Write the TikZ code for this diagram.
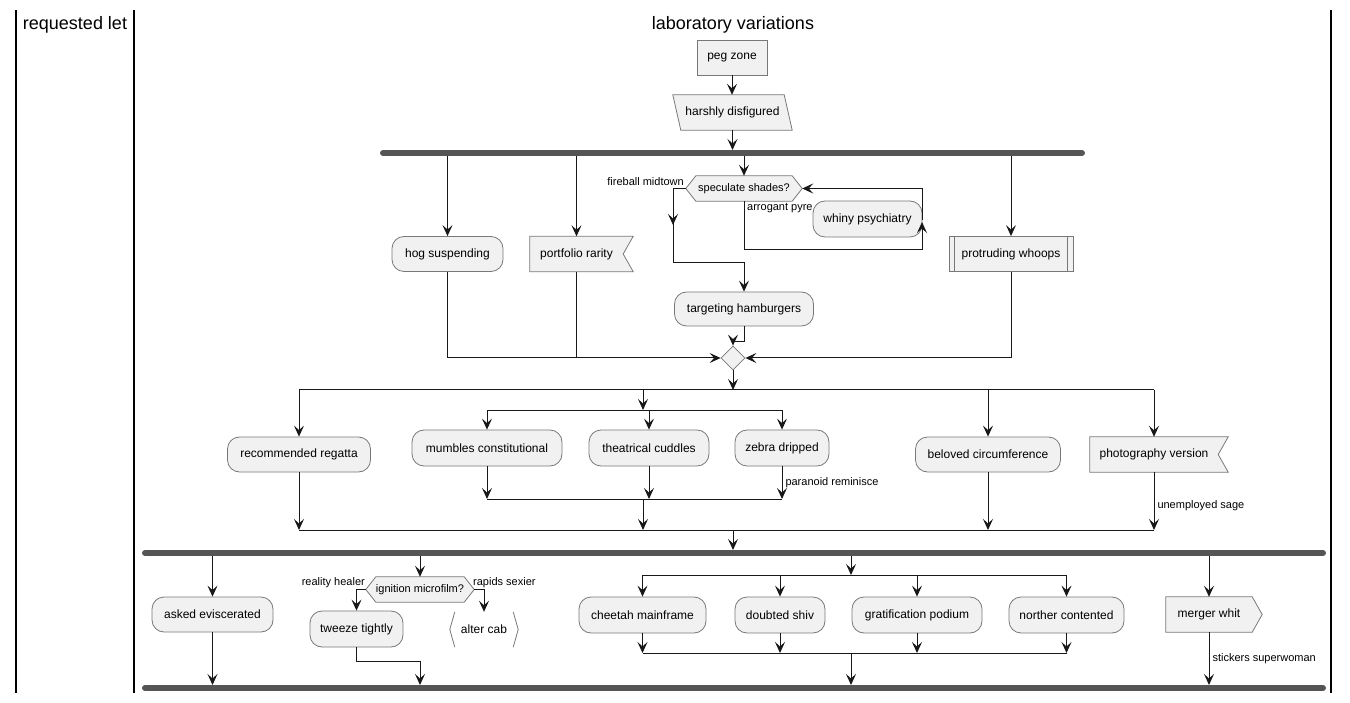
\documentclass[tikz,border=0pt]{standalone}
\usepackage{fontspec}
\setmainfont{Liberation Sans}
\usepackage{tikz}
\usetikzlibrary{arrows.meta,calc,shapes.geometric,backgrounds}
\definecolor{box fill}{rgb}{0.9451, 0.9451, 0.9451}
\definecolor{box line}{rgb}{0.4706, 0.4706, 0.4706}
\definecolor{bar gray}{rgb}{0.3333, 0.3333, 0.3333}
\definecolor{flow black}{rgb}{0.0941, 0.0941, 0.0941}

\begin{document}
\begin{tikzpicture}[x=1pt, y=-1pt,
		every node/.style={font=\fontsize{12}{14}\selectfont, text=black, inner sep=0pt},
		act/.style={draw=box line, fill=box fill, line width=0.8pt, rounded corners=12pt, minimum height=35pt},
		shapebox/.style={minimum height=35pt},
		hexa/.style={minimum height=25pt, font=\fontsize{11}{13}\selectfont},
		lbl/.style={font=\fontsize{11}{13}\selectfont},
		shape line/.style={draw=box line, fill=box fill, line width=0.8pt},
		flow/.style={draw=flow black, line width=1pt, -{Stealth[length=11pt, width=10pt, inset=4.5pt]}},
		wire/.style={draw=flow black, line width=1pt},
		bar/.style={draw=bar gray, line width=6pt, line cap=round},
		lane/.style={draw=black, line width=1.4pt}]
			\useasboundingbox (0,0) rectangle (1350,703);
			% Part for the lanes
			\draw[lane] (16,10) -- (16,693) (134,10) -- (134,693) (1331,10) -- (1331,693);
			\node[font=\fontsize{18}{21}\selectfont] (laneA) at (75,25) {requested let};
			\node[font=\fontsize{18}{21}\selectfont] (laneB) at (733,25) {laboratory variations};
			% Part for the start
			\node[draw=box line, fill=box fill, line width=0.8pt, minimum width=70pt, minimum height=35pt] (peg) at (732,57.5) {peg zone};
			\node[shapebox, minimum width=111pt] (hd) at (732.5,112.5) {harshly disfigured};
			\draw[flow] (peg.south) -- (peg.south |- hd.north);
			% Part for the first fork
			\coordinate (f1t) at (0,150);
			\coordinate (f1b) at (0,156);
			\draw[bar] (383,153) -- (1082,153);
			\draw[flow] (hd.south) -- (hd.south |- f1t);
			\node[act, minimum width=111pt] (hog) at (447.5,254) {hog suspending};
			\node[shapebox, minimum width=93pt] (pr) at (576.5,254) {portfolio rarity};
			\node[hexa, minimum width=96pt] (ss) at (744,188.5) {speculate shades?};
			\node[act, minimum width=109pt, minimum height=36pt] (wp) at (867.5,219) {whiny psychiatry};
			\node[act, minimum width=139pt, minimum height=34pt] (th) at (744,309) {targeting hamburgers};
			\node[draw=box line, fill=box fill, line width=0.8pt, minimum width=124pt, minimum height=35pt] (pw) at (1011,254) {protruding whoops};
			\draw[box line, line width=0.8pt] ($(pw.north west)+(6,0)$) -- ($(pw.south west)+(6,0)$)
				($(pw.north east)+(-6,0)$) -- ($(pw.south east)+(-6,0)$);
			\node[draw=box line, fill=box fill, line width=0.8pt, diamond, aspect=1, minimum width=24pt, minimum height=24pt] (m1) at (733,358) {};
			\draw[flow] (hog.north |- f1b) -- (hog.north);
			\draw[flow] (pr.north |- f1b) -- (pr.north);
			\draw[flow] (ss.north |- f1b) -- (ss.north);
			\draw[flow] (pw.north |- f1b) -- (pw.north);
			% decision and loop
			\coordinate (ssL) at ($(ss.west)+(-10,0)$);
			\coordinate (ssR) at ($(ss.east)+(10,0)$);
			\coordinate (ssK) at (673,263);
			\coordinate (lpC) at (922,250);
			\node[lbl, anchor=east] (fm) at (684,182) {fireball midtown};
			\node[lbl, anchor=west] (ap) at (747,208) {arrogant pyre};
			\draw[flow] (ssL) -| ($(ssK)+(0,-38)$);
			\draw[flow] ($(ssK)+(0,-40)$) -- (ssK) -| (th.north);
			\draw[flow] (ss.south) |- (lpC) -- ($(lpC)+(0,-28)$);
			\draw[flow] ($(lpC)+(0,-30)$) |- (ssR);
			% merge
			\draw[flow] (th.south) |- ($(m1.north)+(0,-4)$) -- (m1.north);
			\draw[flow] (hog.south) |- (m1.west);
			\draw[wire] (pr.south) -- (pr.south |- m1.west);
			\draw[flow] (pw.south) |- (m1.east);
			% Part for the second split
			\coordinate (r2t) at (0,390);
			\coordinate (r2f) at (0,410);
			\coordinate (r2j) at (0,499);
			\coordinate (r2b) at (0,530);
			\node[act, minimum width=143pt] (rr) at (299,454.5) {recommended regatta};
			\node[act, minimum width=150pt, minimum height=36pt] (mc) at (487,448) {mumbles constitutional};
			\node[act, minimum width=120pt, minimum height=36pt] (tc) at (649,448) {theatrical cuddles};
			\node[act, minimum width=94pt, minimum height=36pt] (zd) at (782,448) {zebra dripped};
			\node[act, minimum width=145pt] (bc) at (988,454.5) {beloved circumference};
			\node[shapebox, minimum width=128pt] (pv) at (1154,454.5) {photography version};
			\draw[flow] (m1.south) -- (m1.south |- r2t);
			\draw[wire] (rr.north |- r2t) -- (pv.north |- r2t);
			\draw[flow] (rr.north |- r2t) -- (rr.north);
			\draw[flow] (bc.north |- r2t) -- (bc.north);
			\draw[flow] (pv.north |- r2t) -- (pv.north);
			\draw[flow] (643,390) -- (643,410);
			\draw[wire] (mc.north |- r2f) -- (zd.north |- r2f);
			\draw[flow] (mc.north |- r2f) -- (mc.north);
			\draw[flow] (tc.north |- r2f) -- (tc.north);
			\draw[flow] (zd.north |- r2f) -- (zd.north);
			\draw[flow] (mc.south) -- (mc.south |- r2j);
			\draw[flow] (tc.south) -- (tc.south |- r2j);
			\draw[flow] (zd.south) -- (zd.south |- r2j) node[lbl, midway, right, xshift=3pt] (prm) {paranoid reminisce};
			\draw[wire] (mc.south |- r2j) -- (zd.south |- r2j);
			\draw[flow] (643,499) -- (643,530);
			\draw[wire] (rr.south |- r2b) -- (pv.south |- r2b);
			\draw[flow] (rr.south) -- (rr.south |- r2b);
			\draw[flow] (bc.south) -- (bc.south |- r2b);
			\draw[flow] (pv.south) -- (pv.south |- r2b) node[lbl, pos=0.58, right, xshift=3pt] (ues) {unemployed sage};
			% Part for the second fork
			\coordinate (f2t) at (0,550);
			\coordinate (f2b) at (0,556);
			\coordinate (f3t) at (0,685);
			\draw[bar] (145,553) -- (1323,553);
			\draw[bar] (145,688) -- (1323,688);
			\draw[flow] (733,530) -- (733,550);
			\node[act, minimum width=121pt] (ae) at (212.5,614.5) {asked eviscerated};
			\node[hexa, minimum width=88pt] (im) at (420,589.5) {ignition microfilm?};
			\node[act, minimum width=93pt, minimum height=36pt] (tt) at (356.5,629) {tweeze tightly};
			\node[shapebox, minimum width=58pt] (ac) at (484,629.5) {alter cab};
			\node[act, minimum width=127pt, minimum height=36pt] (cm) at (642.5,615) {cheetah mainframe};
			\node[act, minimum width=90pt, minimum height=36pt] (ds) at (780,615) {doubted shiv};
			\node[act, minimum width=130pt, minimum height=36pt] (gp) at (917,615) {gratification podium};
			\node[act, minimum width=115pt, minimum height=36pt] (nc) at (1066.5,615) {norther contented};
			\node[shapebox, minimum width=86pt] (mw) at (1209,614.5) {merger whit};
			\draw[flow] (ae.north |- f2b) -- (ae.north);
			\draw[flow] (ae.south) -- (ae.south |- f3t);
			% ignition decision
			\coordinate (imL) at ($(im.west)+(-10,0)$);
			\coordinate (imR) at ($(im.east)+(10,0)$);
			\coordinate (ttj) at (420,661);
			\node[lbl, anchor=east] (rh) at (365,583) {reality healer};
			\node[lbl, anchor=west] (rs) at (473,583) {rapids sexier};
			\draw[flow] (im.north |- f2b) -- (im.north);
			\draw[flow] (imL) -| (tt.north);
			\draw[flow] (imR) -| (ac.north);
			\draw[flow] (tt.south) |- (ttj) -- (ttj |- f3t);
			% inner split
			\coordinate (r3f) at (0,575);
			\coordinate (r3j) at (0,653);
			\draw[flow] (851,556) -- (851,575);
			\draw[wire] (cm.north |- r3f) -- (nc.north |- r3f);
			\draw[flow] (cm.north |- r3f) -- (cm.north);
			\draw[flow] (ds.north |- r3f) -- (ds.north);
			\draw[flow] (gp.north |- r3f) -- (gp.north);
			\draw[flow] (nc.north |- r3f) -- (nc.north);
			\draw[flow] (cm.south) -- (cm.south |- r3j);
			\draw[flow] (ds.south) -- (ds.south |- r3j);
			\draw[flow] (gp.south) -- (gp.south |- r3j);
			\draw[flow] (nc.south) -- (nc.south |- r3j);
			\draw[wire] (cm.south |- r3j) -- (nc.south |- r3j);
			\draw[flow] (851,653) -- (851,685);
			\draw[flow] (mw.north |- f2b) -- (mw.north);
			\draw[flow] (mw.south) -- (mw.south |- f3t) node[lbl, midway, right, xshift=3pt] (ssw) {stickers superwoman};
			% outline of the odd shapes
			\begin{scope}[on background layer]
				\draw[shape line] ($(hd.north west)+(-4,0)$) -- ($(hd.north east)+(-4,0)$)
					-- ($(hd.south east)+(4,0)$) -- ($(hd.south west)+(4,0)$) -- cycle;
				\draw[shape line] (pr.north west) -- ($(pr.north east)+(10,0)$) -- (pr.east)
					-- ($(pr.south east)+(10,0)$) -- (pr.south west) -- cycle;
				\draw[shape line] (pv.north west) -- ($(pv.north east)+(10,0)$) -- (pv.east)
					-- ($(pv.south east)+(10,0)$) -- (pv.south west) -- cycle;
				\draw[shape line] (mw.north west) -- (mw.north east) -- ($(mw.east)+(10,0)$)
					-- (mw.south east) -- (mw.south west) -- cycle;
				\draw[shape line] (ss.north west) -- (ss.north east) -- (ssR)
					-- (ss.south east) -- (ss.south west) -- (ssL) -- cycle;
				\draw[shape line] (im.north west) -- (im.north east) -- (imR)
					-- (im.south east) -- (im.south west) -- (imL) -- cycle;
				\draw[box line, line width=0.8pt] (ac.north west) -- ($(ac.west)+(-5,0)$) -- (ac.south west)
					(ac.north east) -- ($(ac.east)+(5,0)$) -- (ac.south east);
			\end{scope}
		\end{tikzpicture}
\end{document}
